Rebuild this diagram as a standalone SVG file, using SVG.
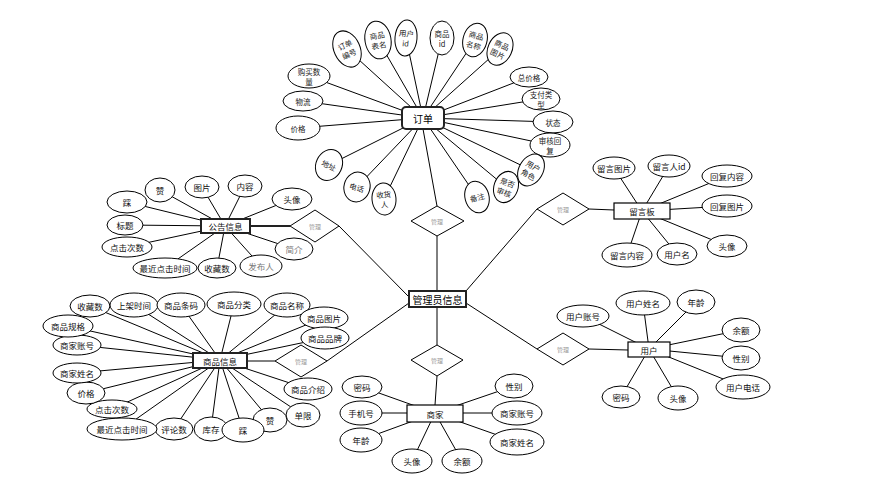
<svg xmlns="http://www.w3.org/2000/svg" width="870" height="485" viewBox="0 0 870 485">
<style>
.bg{fill:#fff}
.ln{stroke:#000;stroke-width:1;fill:none}
.lnb{stroke:#222;stroke-width:2;fill:none}
.el{fill:#fff;stroke:#000;stroke-width:1}
.rc{fill:#fff;stroke:#000;stroke-width:1.2}
.rcb{fill:#fff;stroke:#222;stroke-width:2}
.dm{fill:#fff;stroke:#000;stroke-width:1}
.t{font-family:"Noto Sans CJK SC","Noto Sans",sans-serif;font-size:8.5px;fill:#111;text-anchor:middle;dominant-baseline:central}
.ts{font-family:"Noto Sans CJK SC","Noto Sans",sans-serif;font-size:7.5px;fill:#222;text-anchor:middle;dominant-baseline:central}
.tg{font-family:"Noto Sans CJK SC","Noto Sans",sans-serif;font-size:8.5px;fill:#777;text-anchor:middle;dominant-baseline:central}
.td{font-family:"Noto Sans CJK SC","Noto Sans",sans-serif;font-size:6px;fill:#999;text-anchor:middle;dominant-baseline:central}
.tr{font-family:"Noto Sans CJK SC","Noto Sans",sans-serif;font-size:10px;fill:#000;text-anchor:middle;dominant-baseline:central}
</style>
<rect class="bg" x="0" y="0" width="870" height="485"/>
<g id="connectors">
<path class="ln" d="M347,49L423,118M378,40L423,118M406,38L423,118M442,38L423,118M475,40L423,118M500,49L423,118M529,77L423,118M541,99L423,118M553,122L423,118M550,145L423,118M531,170L423,118M506,187L423,118M477,197L423,118M384,199L423,118M357,187L423,118M329,165L423,118M298,128L423,118M303,101L423,118M309,76L423,118"/>
<path class="ln" d="M160,190L225,226M127,202L225,226M202,187L225,226M245,186L225,226M292,199L225,226M125,225L225,226M127,247L225,226M165,268L225,226M217,268L225,226M261,266L225,226M294,249L225,226"/>
<path class="lnb" d="M250,226L290,226"/>
<path class="ln" d="M90,306L220,360M134,305L220,360M181,305L220,360M234,304L220,360M287,305L220,360M323,318L220,360M325,338L220,360M308,389L220,360M303,415L220,360M270,420L220,360M243,430L220,360M211,429L220,360M174,429L220,360M122,429L220,360M112,409L220,360M86,393L220,360M77,373L220,360M77,345L220,360M68,326L220,360"/>
<path class="ln" d="M247,361L275,361M327,361L409,303"/>
<path class="ln" d="M614,168L642,211M669,166L642,211M727,176L642,211M727,206L642,211M727,246L642,211M627,255L642,211M677,254L642,211"/>
<path class="ln" d="M537,209L466,291M589,209L614,210"/>
<path class="ln" d="M583,316L649,349M643,303L649,349M696,302L649,349M741,330L649,349M741,358L649,349M743,387L649,349M621,397L649,349M678,398L649,349"/>
<path class="ln" d="M537,349L466,303M589,349L628,350"/>
<path class="ln" d="M362,387L435,413M361,413L435,413M361,440L435,413M412,461L435,413M462,461L435,413M514,386L435,413M517,413L435,413M517,442L435,413"/>
<path class="ln" d="M437,307L437,345M437,376L435,405"/>
<path class="ln" d="M437,206L423,129M437,236L437,291M339,226L409,297"/>
</g>

<g id="n-admin"><rect class="rcb" x="409" y="291" width="57" height="16"/><text class="tr" x="437.5" y="299">管理员信息</text></g>

<g id="d-order"><polygon class="dm" points="437,206 464,221 437,236 411,221"/><text class="td" x="437" y="221">管理</text></g>
<g id="d-notice"><polygon class="dm" points="315,210 339,226 315,242 290,226"/><text class="td" x="315" y="226">管理</text></g>
<g id="d-product"><polygon class="dm" points="301,345 327,361 301,377 275,361"/><text class="td" x="301" y="361">管理</text></g>
<g id="d-msg"><polygon class="dm" points="563,193 589,209 563,225 537,209"/><text class="td" x="563" y="209">管理</text></g>
<g id="d-user"><polygon class="dm" points="563,333 589,349 563,365 537,349"/><text class="td" x="563" y="349">管理</text></g>
<g id="d-merchant"><polygon class="dm" points="437,345 463,360 437,376 411,360"/><text class="td" x="437" y="360">管理</text></g>

<g id="n-order"><rect x="402" y="107" width="42" height="22" rx="4" class="rcb"/><text class="tr" x="423" y="118">订单</text></g>
<g id="o1" transform="translate(347,49) rotate(-25)"><ellipse class="el" rx="13" ry="19"/><text class="ts" y="-5">订单</text><text class="ts" y="5">编号</text></g>
<g id="o2" transform="translate(378,40) rotate(-10)"><ellipse class="el" rx="13" ry="19"/><text class="ts" y="-5">商品</text><text class="ts" y="5">表名</text></g>
<g id="o3" transform="translate(406,38) rotate(5)"><ellipse class="el" rx="11" ry="18"/><text class="ts" y="-5">用户</text><text class="ts" y="5">id</text></g>
<g id="o4" transform="translate(442,38)"><ellipse class="el" rx="12" ry="17"/><text class="ts" y="-5">商品</text><text class="ts" y="5">id</text></g>
<g id="o5" transform="translate(475,40) rotate(15)"><ellipse class="el" rx="12" ry="17"/><text class="ts" y="-5">商品</text><text class="ts" y="5">名称</text></g>
<g id="o6" transform="translate(500,49) rotate(25)"><ellipse class="el" rx="12" ry="17"/><text class="ts" y="-5">商品</text><text class="ts" y="5">图片</text></g>
<g id="o7" transform="translate(529,77)"><ellipse class="el" rx="19" ry="10"/><text class="ts" y="0">总价格</text></g>
<g id="o8" transform="translate(541,99)"><ellipse class="el" rx="19" ry="11"/><text class="ts" y="-5">支付类</text><text class="ts" y="5">型</text></g>
<g id="o9" transform="translate(553,122)"><ellipse class="el" rx="20" ry="11"/><text class="ts" y="0">状态</text></g>
<g id="o10" transform="translate(550,145)"><ellipse class="el" rx="20" ry="12"/><text class="ts" y="-5">审核回</text><text class="ts" y="5">复</text></g>
<g id="o11" transform="translate(531,170) rotate(30)"><ellipse class="el" rx="12" ry="17"/><text class="ts" y="-5">用户</text><text class="ts" y="5">角色</text></g>
<g id="o12" transform="translate(506,187) rotate(20)"><ellipse class="el" rx="12" ry="16"/><text class="ts" y="-5">是否</text><text class="ts" y="5">审核</text></g>
<g id="o13" transform="translate(477,197) rotate(-15)"><ellipse class="el" rx="12" ry="16"/><text class="ts" y="0">备注</text></g>
<g id="o14" transform="translate(384,199) rotate(-5)"><ellipse class="el" rx="12" ry="16"/><text class="ts" y="-5">收货</text><text class="ts" y="5">人</text></g>
<g id="o15" transform="translate(357,187) rotate(15)"><ellipse class="el" rx="13" ry="15"/><text class="ts" y="0">电话</text></g>
<g id="o16" transform="translate(329,165) rotate(25)"><ellipse class="el" rx="13" ry="16"/><text class="ts" y="0">地址</text></g>
<g id="o17" transform="translate(298,128)"><ellipse class="el" rx="22" ry="12"/><text class="ts" y="0">价格</text></g>
<g id="o18" transform="translate(303,101)"><ellipse class="el" rx="20" ry="10"/><text class="ts" y="0">物流</text></g>
<g id="o19" transform="translate(309,76)"><ellipse class="el" rx="21" ry="12"/><text class="ts" y="-5">购买数</text><text class="ts" y="5">量</text></g>

<g id="n-notice"><rect class="rcb" x="201" y="219" width="49" height="14"/><text class="t" x="225.5" y="226">公告信息</text></g>
<g id="a1"><ellipse class="el" cx="160" cy="190" rx="15" ry="12"/><text class="t" x="160" y="190">赞</text></g>
<g id="a2"><ellipse class="el" cx="127" cy="202" rx="20" ry="11"/><text class="t" x="127" y="202">踩</text></g>
<g id="a3"><ellipse class="el" cx="202" cy="187" rx="17" ry="11"/><text class="t" x="202" y="187">图片</text></g>
<g id="a4"><ellipse class="el" cx="245" cy="186" rx="17" ry="11"/><text class="t" x="245" y="186">内容</text></g>
<g id="a5"><ellipse class="el" cx="292" cy="199" rx="20" ry="11"/><text class="t" x="292" y="199">头像</text></g>
<g id="a6"><ellipse class="el" cx="125" cy="225" rx="18" ry="10"/><text class="t" x="125" y="225">标题</text></g>
<g id="a7"><ellipse class="el" cx="127" cy="247" rx="25" ry="10"/><text class="t" x="127" y="247">点击次数</text></g>
<g id="a8"><ellipse class="el" cx="165" cy="268" rx="32" ry="10"/><text class="t" x="165" y="268">最近点击时间</text></g>
<g id="a9"><ellipse class="el" cx="217" cy="268" rx="19" ry="10"/><text class="t" x="217" y="268">收藏数</text></g>
<g id="a10"><ellipse class="el" cx="261" cy="266" rx="21" ry="11"/><text class="tg" x="261" y="266">发布人</text></g>
<g id="a11"><ellipse class="el" cx="294" cy="249" rx="19" ry="11"/><text class="tg" x="294" y="249">简介</text></g>

<g id="n-product"><rect class="rcb" x="193" y="353" width="54" height="15"/><text class="t" x="220" y="360.5">商品信息</text></g>
<g id="p1"><ellipse class="el" cx="90" cy="306" rx="20" ry="11"/><text class="t" x="90" y="306">收藏数</text></g>
<g id="p2"><ellipse class="el" cx="134" cy="305" rx="24" ry="12"/><text class="t" x="134" y="305">上架时间</text></g>
<g id="p3"><ellipse class="el" cx="181" cy="305" rx="24" ry="12"/><text class="t" x="181" y="305">商品条码</text></g>
<g id="p4"><ellipse class="el" cx="234" cy="304" rx="27" ry="12"/><text class="t" x="234" y="304">商品分类</text></g>
<g id="p5"><ellipse class="el" cx="287" cy="305" rx="23" ry="12"/><text class="t" x="287" y="305">商品名称</text></g>
<g id="p6"><ellipse class="el" cx="324" cy="318" rx="24" ry="11"/><text class="t" x="324" y="318">商品图片</text></g>
<g id="p7"><ellipse class="el" cx="325" cy="338" rx="24" ry="11"/><text class="t" x="325" y="338">商品品牌</text></g>
<g id="p8"><ellipse class="el" cx="308" cy="389" rx="24" ry="11"/><text class="t" x="308" y="389">商品介绍</text></g>
<g id="p9"><ellipse class="el" cx="303" cy="415" rx="17" ry="12"/><text class="t" x="303" y="415">单限</text></g>
<g id="p10"><ellipse class="el" cx="270" cy="420" rx="17" ry="12"/><text class="t" x="270" y="420">赞</text></g>
<g id="p12"><ellipse class="el" cx="211" cy="429" rx="17" ry="12"/><text class="t" x="211" y="429">库存</text></g>
<g id="p11"><ellipse class="el" cx="243" cy="430" rx="21" ry="12"/><text class="t" x="243" y="430">踩</text></g>
<g id="p13"><ellipse class="el" cx="174" cy="429" rx="19" ry="11"/><text class="t" x="174" y="429">评论数</text></g>
<g id="p14"><ellipse class="el" cx="122" cy="429" rx="35" ry="11"/><text class="t" x="122" y="429">最近点击时间</text></g>
<g id="p15"><ellipse class="el" cx="112" cy="409" rx="25" ry="9"/><text class="t" x="112" y="409">点击次数</text></g>
<g id="p16"><ellipse class="el" cx="86" cy="393" rx="19" ry="11"/><text class="t" x="86" y="393">价格</text></g>
<g id="p17"><ellipse class="el" cx="77" cy="373" rx="24" ry="10"/><text class="t" x="77" y="373">商家姓名</text></g>
<g id="p18"><ellipse class="el" cx="77" cy="345" rx="24" ry="10"/><text class="t" x="77" y="345">商家账号</text></g>
<g id="p19"><ellipse class="el" cx="68" cy="326" rx="25" ry="11"/><text class="t" x="68" y="326">商品规格</text></g>

<g id="n-msg"><rect class="rc" x="614" y="203" width="56" height="16"/><text class="t" x="642" y="211">留言板</text></g>
<g id="m1"><ellipse class="el" cx="614" cy="168" rx="21" ry="11"/><text class="t" x="614" y="168">留言图片</text></g>
<g id="m2"><ellipse class="el" cx="669" cy="166" rx="21" ry="11"/><text class="t" x="669" y="166">留言人id</text></g>
<g id="m3"><ellipse class="el" cx="727" cy="176" rx="25" ry="11"/><text class="t" x="727" y="176">回复内容</text></g>
<g id="m4"><ellipse class="el" cx="727" cy="206" rx="25" ry="11"/><text class="t" x="727" y="206">回复图片</text></g>
<g id="m5"><ellipse class="el" cx="727" cy="246" rx="20" ry="11"/><text class="t" x="727" y="246">头像</text></g>
<g id="m6"><ellipse class="el" cx="627" cy="255" rx="25" ry="12"/><text class="t" x="627" y="255">留言内容</text></g>
<g id="m7"><ellipse class="el" cx="677" cy="254" rx="20" ry="11"/><text class="t" x="677" y="254">用户名</text></g>

<g id="n-user"><rect class="rc" x="628" y="342" width="42" height="15"/><text class="t" x="649" y="349.5">用户</text></g>
<g id="u1"><ellipse class="el" cx="583" cy="316" rx="26" ry="11"/><text class="t" x="583" y="316">用户账号</text></g>
<g id="u2"><ellipse class="el" cx="643" cy="303" rx="27" ry="12"/><text class="t" x="643" y="303">用户姓名</text></g>
<g id="u3"><ellipse class="el" cx="696" cy="302" rx="19" ry="12"/><text class="t" x="696" y="302">年龄</text></g>
<g id="u4"><ellipse class="el" cx="741" cy="330" rx="19" ry="12"/><text class="t" x="741" y="330">余额</text></g>
<g id="u5"><ellipse class="el" cx="741" cy="358" rx="19" ry="12"/><text class="t" x="741" y="358">性别</text></g>
<g id="u6"><ellipse class="el" cx="743" cy="387" rx="27" ry="12"/><text class="t" x="743" y="387">用户电话</text></g>
<g id="u7"><ellipse class="el" cx="621" cy="397" rx="19" ry="11"/><text class="t" x="621" y="397">密码</text></g>
<g id="u8"><ellipse class="el" cx="678" cy="398" rx="20" ry="12"/><text class="t" x="678" y="398">头像</text></g>

<g id="n-merchant"><rect class="rc" x="407" y="405" width="56" height="17"/><text class="t" x="435" y="413.5">商家</text></g>
<g id="s1"><ellipse class="el" cx="362" cy="387" rx="20" ry="11"/><text class="t" x="362" y="387">密码</text></g>
<g id="s2"><ellipse class="el" cx="361" cy="413" rx="21" ry="12"/><text class="t" x="361" y="413">手机号</text></g>
<g id="s3"><ellipse class="el" cx="361" cy="440" rx="21" ry="12"/><text class="t" x="361" y="440">年龄</text></g>
<g id="s4"><ellipse class="el" cx="412" cy="461" rx="20" ry="12"/><text class="t" x="412" y="461">头像</text></g>
<g id="s5"><ellipse class="el" cx="462" cy="461" rx="20" ry="12"/><text class="t" x="462" y="461">余额</text></g>
<g id="s6"><ellipse class="el" cx="514" cy="386" rx="19" ry="12"/><text class="t" x="514" y="386">性别</text></g>
<g id="s7"><ellipse class="el" cx="517" cy="413" rx="25" ry="12"/><text class="t" x="517" y="413">商家账号</text></g>
<g id="s8"><ellipse class="el" cx="517" cy="442" rx="27" ry="13"/><text class="t" x="517" y="442">商家姓名</text></g>
</svg>
